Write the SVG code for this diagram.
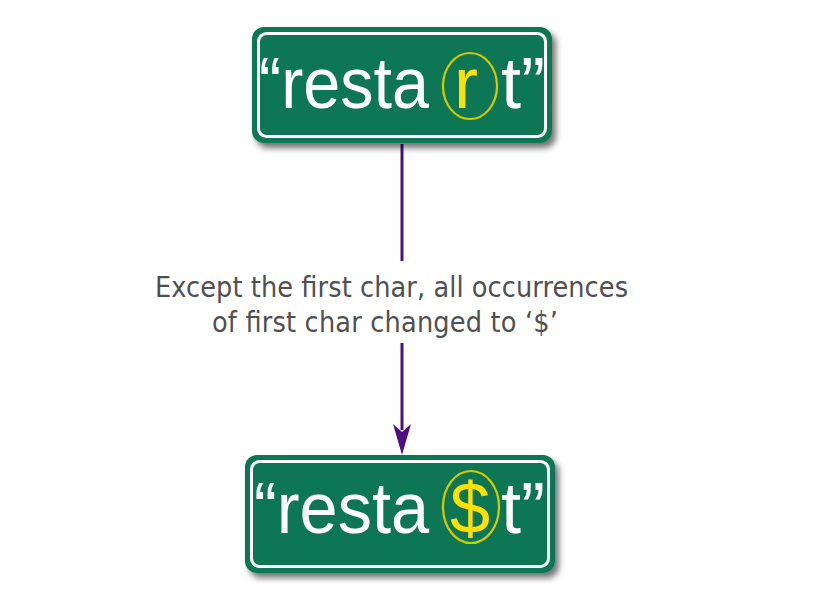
<svg xmlns="http://www.w3.org/2000/svg" width="825" height="594" viewBox="0 0 825 594">
<defs>
<filter id="sh" x="-10%" y="-10%" width="125%" height="135%">
<feDropShadow dx="4" dy="5" stdDeviation="3" flood-color="#000" flood-opacity="0.55"/>
</filter>
<style>
.sign{fill:#0a7755;filter:url(#sh)}
.inner{fill:none;stroke:#ffffff;stroke-width:3}
.word{font-family:"Liberation Sans",Arial,sans-serif;font-size:72px;fill:#ffffff}
.hl{fill:#ffe000}
.ring{fill:none;stroke:#d8c800;stroke-width:2.2}
.lbl{font-family:"DejaVu Sans Condensed","DejaVu Sans",Verdana,sans-serif;font-size:28.5px;fill:#505050}
.con{stroke:#4e0f80;stroke-width:3;fill:none}
.head{fill:#4e0f80}
</style>
</defs>
<rect width="825" height="594" fill="#ffffff"/>
<g id="connectors">
<line class="con" x1="402" y1="144" x2="402" y2="261"/>
<line class="con" x1="402" y1="343" x2="402" y2="430"/>
<path class="head" d="M393,424 L402,432 L411,424 L402,455 Z"/>
</g>
<g id="label">
<text class="lbl" x="155" y="297" textLength="473">Except the first char, all occurrences</text>
<text class="lbl" x="212" y="332" textLength="346">of first char changed to ‘$’</text>
</g>
<g id="node-top">
<rect class="sign" x="252" y="27" width="300" height="116" rx="12"/>
<rect class="inner" x="258.5" y="33.5" width="287" height="103" rx="8"/>
<text class="word" x="259" y="108" textLength="170" lengthAdjust="spacingAndGlyphs">“resta</text>
<text class="word hl" x="454" y="108">r</text>
<text class="word" x="501" y="108">t”</text>
<ellipse class="ring" cx="470" cy="86" rx="27" ry="33"/>
</g>
<g id="node-bottom">
<rect class="sign" x="245" y="455" width="310" height="118" rx="12"/>
<rect class="inner" x="251.5" y="461.5" width="297" height="105" rx="8"/>
<text class="word" x="254" y="533" textLength="175" lengthAdjust="spacingAndGlyphs">“resta</text>
<text class="word hl" x="450" y="533">$</text>
<text class="word" x="501" y="533">t”</text>
<ellipse class="ring" cx="471" cy="507" rx="28" ry="36"/>
</g>
</svg>
